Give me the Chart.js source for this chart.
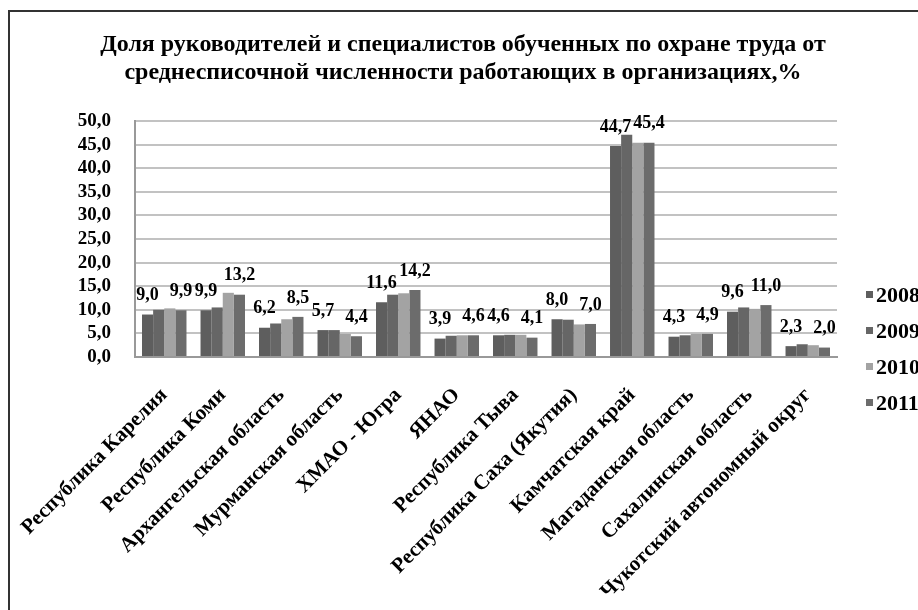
<!DOCTYPE html>
<html>
<head>
<meta charset="utf-8">
<script src="https://cdn.jsdelivr.net/npm/chart.js@4.4.1/dist/chart.umd.min.js"></script>
<style>
  html, body { margin: 0; padding: 0; background: #fff; overflow: hidden; }
  .frame {
    position: absolute; left: 8px; top: 10px; width: 960px; height: 640px;
    border: 2px solid #333; box-sizing: border-box;
  }
  .wrap { position: absolute; left: 0; top: 0; width: 918px; height: 610px; }
  .title {
    position: absolute; left: 0; width: 926px; top: 29px; text-align: center;
    font: bold 24px 'Liberation Serif', serif; line-height: 28px; color: #000;
  }
  .legend {
    position: absolute; left: 866px; top: 281px;
    font: bold 22px 'Liberation Serif', serif; color: #000; white-space: nowrap;
  }
  .legend div { height: 36px; line-height: 28px; }
  .legend span { display: inline-block; width: 7px; height: 7px; margin-right: 3px; vertical-align: 4px; }
</style>
</head>
<body>
<div class="frame"></div>
<div class="wrap"><canvas id="chart" width="918" height="610"></canvas></div>
<div class="title">Доля руководителей и специалистов обученных по охране труда от<br>среднесписочной численности работающих в организациях,%</div>
<div class="legend" id="legend"></div>
<script>
// regions
const regions = [
  'Республика Карелия', 'Республика Коми', 'Архангельская область',
  'Мурманская область', 'ХМАО - Югра', 'ЯНАО', 'Республика Тыва',
  'Республика Саха (Якутия)', 'Камчатская край', 'Магаданская область',
  'Сахалинская область', 'Чукотский автономный округ'
];
const years = ['2008', '2009', '2010', '2011'];

const v2008 = [9.0, 9.9, 6.2, 5.7, 11.6, 3.9, 4.6, 8.0, 44.7, 4.3, 9.6, 2.3];
const v2009 = [10.0, 10.5, 7.1, 5.7, 13.2, 4.5, 4.7, 7.9, 47.1, 4.6, 10.5, 2.7];
const v2010 = [10.3, 13.6, 8.0, 4.9, 13.5, 4.6, 4.7, 6.9, 45.4, 4.9, 10.2, 2.5];
const v2011 = [9.9, 13.2, 8.5, 4.4, 14.2, 4.6, 4.1, 7.0, 45.4, 4.9, 11.0, 2.0];

// which series carry value labels
const labelled = [0, 3];
const colors = ['#5e5e5e', '#666666', '#a3a3a3', '#6c6c6c'];

const serif = "'Liberation Serif', 'Times New Roman', serif";

const valueLabels = {
  id: 'valueLabels',
  afterDatasetsDraw(chart) {
    const ctx = chart.ctx;
    ctx.save();
    ctx.font = 'bold 18px ' + serif;
    ctx.fillStyle = '#000';
    ctx.textAlign = 'center';
    ctx.textBaseline = 'bottom';
    labelled.forEach(di => {
      const meta = chart.getDatasetMeta(di);
      meta.data.forEach((bar, i) => {
        const v = chart.data.datasets[di].data[i];
        ctx.fillText(v.toFixed(1).replace('.', ','), bar.x, bar.y - 10);
      });
    });
    ctx.restore();
  }
};

new Chart(document.getElementById('chart'), {
  type: 'bar',
  data: {
    labels: regions,
    datasets: [v2008, v2009, v2010, v2011].map((d, i) => ({
      label: years[i],
      data: d,
      backgroundColor: colors[i],
      borderWidth: 0
    }))
  },
  options: {
    responsive: false,
    animation: false,
    layout: { padding: { top: 121, left: 0, right: 81, bottom: 0 } },
    datasets: { bar: { barPercentage: 1, categoryPercentage: 0.76 } },
    plugins: {
      legend: { display: false },
      tooltip: { enabled: false },
      title: { display: false }
    },
    scales: {
      x: {
        grid: { display: false },
        border: { color: '#999', width: 2 },
        ticks: {
          color: '#000', maxRotation: 45, minRotation: 45, padding: 18,
          autoSkip: false,
          font: { family: serif, size: 21, weight: 'bold' }
        },
        afterFit(s) { s.height = 253; }
      },
      y: {
        min: 0, max: 50,
        grid: { color: '#c2c2c2', lineWidth: 2, drawTicks: false },
        border: { color: '#999', width: 2 },
        ticks: {
          stepSize: 5, color: '#000', padding: 24, autoSkip: false,
          font: { family: serif, size: 19, weight: 'bold' },
          callback: v => v.toFixed(1).replace('.', ',')
        },
        afterFit(s) { s.width = 135; }
      }
    }
  },
  plugins: [valueLabels]
});

document.getElementById('legend').innerHTML = years.map((y, i) =>
  `<div><span style="background:${colors[i]}"></span>${y}</div>`).join('');
</script>
</body>
</html>
